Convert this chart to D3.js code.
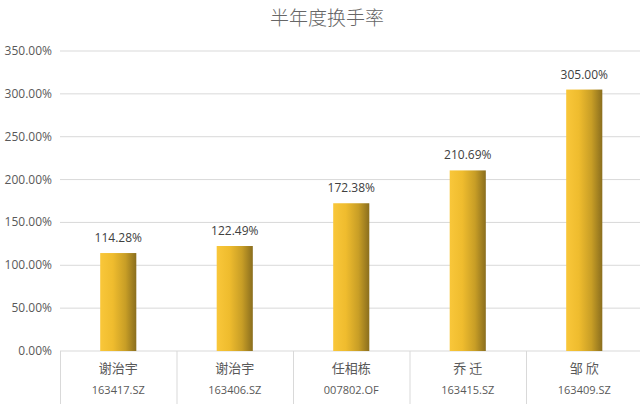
<!DOCTYPE html>
<html lang="zh">
  <head>
    <meta charset="utf-8">
    <title>半年度换手率</title>
    <style>
      body { margin: 0; background: #fff; }
      text { font-family: "Open Sans", "Noto Sans CJK SC", sans-serif; fill: #595959; }
    </style>
  </head>
  <body>
    <div id="viz"></div>
    <script src="https://cdn.jsdelivr.net/npm/d3@7/dist/d3.min.js"></script>
    <script>
      const managers = ['谢治宇', '谢治宇', '任相栋', '乔 迁', '邹 欣']
      const codes = ['163417.SZ', '163406.SZ', '007802.OF', '163415.SZ', '163409.SZ']
      const turnover = [114.28, 122.49, 172.38, 210.69, 305.00]
      const yTicks = [0, 50, 100, 150, 200, 250, 300, 350]

      const width = 640
      const height = 404
      const svg = d3.select('#viz').append('svg').attr('width', width).attr('height', height)

      const x = d3.scaleBand().domain(d3.range(managers.length)).range([60, 642.5]).paddingInner(0.69).paddingOuter(0.345)
      const band = d3.scaleBand().domain(d3.range(managers.length)).range([60, 642.5])
      const y = d3.scaleLinear().domain([0, 350]).range([351, 51])

      const grad = svg.append('defs').append('linearGradient').attr('id', 'gold')
      grad.append('stop').attr('offset', '0%').attr('stop-color', '#f9c73a')
      grad.append('stop').attr('offset', '35%').attr('stop-color', '#efbc2e')
      grad.append('stop').attr('offset', '70%').attr('stop-color', '#c89e26')
      grad.append('stop').attr('offset', '100%').attr('stop-color', '#8a6e1e')

      svg.append('text')
        .attr('x', 327).attr('y', 25)
        .attr('text-anchor', 'middle')
        .style('font-family', '"Noto Sans CJK SC", sans-serif')
        .style('font-weight', 300)
        .style('font-size', '19px')
        .style('fill', '#666')
        .text('半年度换手率')

      // gridlines + y labels
      const yAxis = svg.append('g')
      yAxis.selectAll('line').data(yTicks).enter().append('line')
        .attr('x1', 60).attr('x2', width)
        .attr('y1', d => y(d)).attr('y2', d => y(d))
        .attr('stroke', '#d9d9d9').attr('stroke-width', 1)
      yAxis.selectAll('text').data(yTicks).enter().append('text')
        .attr('x', 52).attr('y', d => y(d) + 4)
        .attr('text-anchor', 'end')
        .style('font-size', '12px')
        .text(d => d.toFixed(2) + '%')

      // category separators
      svg.selectAll('line.sep').data(d3.range(managers.length + 1)).enter().append('line')
        .attr('class', 'sep')
        .attr('x1', d => (d < managers.length ? band(d) : 642.5) + 0.5)
        .attr('x2', d => (d < managers.length ? band(d) : 642.5) + 0.5)
        .attr('y1', y(0)).attr('y2', height)
        .attr('stroke', '#d9d9d9')

      svg.selectAll('rect.bar').data(turnover).enter().append('rect')
        .attr('class', 'bar')
        .attr('x', (d, i) => x(i))
        .attr('width', x.bandwidth())
        .attr('y', d => y(d))
        .attr('height', d => y(0) - y(d))
        .attr('fill', 'url(#gold)')

      svg.selectAll('text.val').data(turnover).enter().append('text')
        .attr('class', 'val')
        .attr('x', (d, i) => x(i) + x.bandwidth() / 2)
        .attr('y', d => y(d) - 11)
        .attr('text-anchor', 'middle')
        .style('font-size', '12px')
        .style('fill', '#404040')
        .text(d => d.toFixed(2) + '%')

      svg.selectAll('text.name').data(managers).enter().append('text')
        .attr('class', 'name')
        .attr('x', (d, i) => band(i) + band.bandwidth() / 2)
        .attr('y', 373)
        .attr('text-anchor', 'middle')
        .style('font-family', '"Noto Sans CJK SC", sans-serif')
        .style('font-size', '13px')
        .text(d => d)

      svg.selectAll('text.code').data(codes).enter().append('text')
        .attr('class', 'code')
        .attr('x', (d, i) => band(i) + band.bandwidth() / 2)
        .attr('y', 394)
        .attr('text-anchor', 'middle')
        .style('font-size', '11px')
        .text(d => d)
    </script>
  </body>
</html>
